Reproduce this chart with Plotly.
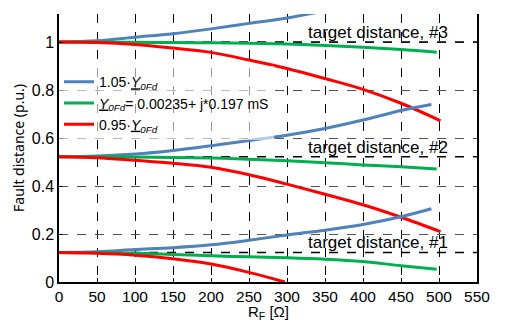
import plotly.graph_objects as go

# Resistance values (ohm)
rf_blue = [0, 50, 100, 150, 200, 250, 300, 350, 400, 450, 490]
rf_green = [0, 50, 100, 150, 200, 250, 300, 350, 400, 450, 497]
rf_red = [0, 50, 100, 150, 200, 250, 300, 350, 400, 450, 502]
rf_red1 = [0, 50, 100, 150, 200, 250, 297]

# target #3
blue3 = [1.0, 1.005, 1.02, 1.035, 1.055, 1.078, 1.10, 1.13, 1.16, 1.19, 1.22]
green3 = [1.0, 1.0, 0.999, 0.998, 0.997, 0.995, 0.992, 0.986, 0.978, 0.969, 0.958]
red3 = [1.0, 0.998, 0.99, 0.975, 0.957, 0.925, 0.89, 0.848, 0.803, 0.745, 0.672]
# target #2
blue2 = [0.522, 0.525, 0.533, 0.548, 0.568, 0.59, 0.612, 0.64, 0.675, 0.715, 0.74]
green2 = [0.522, 0.522, 0.521, 0.519, 0.517, 0.512, 0.505, 0.497, 0.488, 0.48, 0.471]
red2 = [0.522, 0.518, 0.507, 0.495, 0.478, 0.447, 0.408, 0.366, 0.322, 0.27, 0.21]
# target #1
blue1 = [0.123, 0.126, 0.135, 0.143, 0.155, 0.174, 0.196, 0.216, 0.24, 0.272, 0.305]
green1 = [0.123, 0.122, 0.12, 0.115, 0.109, 0.105, 0.101, 0.095, 0.085, 0.068, 0.053]
red1 = [0.123, 0.12, 0.112, 0.097, 0.075, 0.04, 0.0]

targets = [0.123, 0.522, 1.0]
target_labels = ["target distance, #1", "target distance, #2", "target distance, #3"]
target_x = [0, 550]

x_ticks = list(range(0, 551, 50))
y_ticks = [0, 0.2, 0.4, 0.6, 0.8, 1]

BLUE = "#4f81bd"
GREEN = "#00b050"
RED = "#ff0000"

names = [
    "1.05·<u><i>Y</i></u><sub><i>0Fd</i></sub>",
    "<u><i>Y</i></u><sub><i>0Fd</i></sub>= 0.00235+ j*0.197 mS",
    "0.95·<u><i>Y</i></u><sub><i>0Fd</i></sub>",
]

fig = go.Figure()

# target lines
for t in targets:
    fig.add_trace(go.Scatter(x=target_x, y=[t, t], mode="lines",
                             line=dict(color="black", width=1.5, dash="dash"),
                             showlegend=False, hoverinfo="skip"))

groups = [
    (blue3, green3, red3, True),
    (blue2, green2, red2, False),
    (blue1, green1, red1, False),
]
for b, g, r, show in groups:
    rr = rf_red1 if r is red1 else rf_red
    fig.add_trace(go.Scatter(x=rf_blue, y=b, mode="lines", line=dict(color=BLUE, width=3, shape="spline"),
                             name=names[0], legendgroup="b", showlegend=show))
    fig.add_trace(go.Scatter(x=rf_green, y=g, mode="lines", line=dict(color=GREEN, width=3, shape="spline"),
                             name=names[1], legendgroup="g", showlegend=show))
    fig.add_trace(go.Scatter(x=rr, y=r, mode="lines", line=dict(color=RED, width=3, shape="spline"),
                             name=names[2], legendgroup="r", showlegend=show))

for t, lab in zip(targets, target_labels):
    fig.add_annotation(x=420, y=t, text=lab, showarrow=False, xanchor="center", yanchor="bottom",
                       yshift=-2, font=dict(size=17, color="black"))

# x-axis title as a paper annotation so it sits just below the tick labels
fig.add_annotation(x=0.5, y=0, xref="paper", yref="paper", text="R<sub>F</sub> [Ω]",
                   showarrow=False, xanchor="center", yanchor="middle", yshift=-30,
                   font=dict(size=15, color="black"))

# page body adds an 8px offset, so the figure is 8px smaller than the window
fig.update_layout(
    width=497, height=312,
    margin=dict(l=51, r=28, t=6, b=38),
    paper_bgcolor="white", plot_bgcolor="white",
    font=dict(family="Liberation Sans, Arial, sans-serif", color="black", size=16),
    legend=dict(x=0.0, y=0.805, xanchor="left", yanchor="top",
                bgcolor="rgba(255,255,255,0.6)", font=dict(size=14),
                tracegroupgap=0, itemwidth=30),
    showlegend=True,
)
fig.update_xaxes(range=[0, 550], tickvals=x_ticks, showline=True, linecolor="black", linewidth=1.5,
                 ticks="inside", ticklen=4, tickcolor="black", automargin=False,
                 showgrid=True, gridcolor="black", griddash="dash", gridwidth=1,
                 zeroline=False, tickfont=dict(size=15.5))
fig.update_yaxes(range=[0, 1.117], tickvals=y_ticks, showline=True, linecolor="black", linewidth=1.5,
                 mirror=True, ticks="inside", ticklen=4, tickcolor="black", automargin=False,
                 showgrid=True, gridcolor="#555555", griddash="dash", gridwidth=1,
                 zeroline=False, tickfont=dict(size=16),
                 title=dict(text="Fault distance (p.u.)", font=dict(size=14, family="Noto Sans"), standoff=4))

fig.write_html("out.html")
